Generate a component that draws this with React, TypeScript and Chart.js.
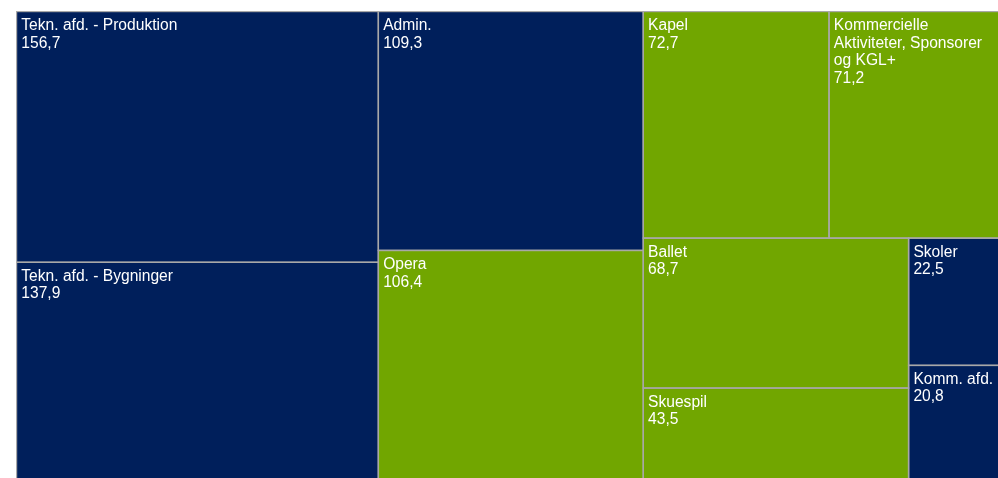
import React, { useEffect, useRef } from "react";
import { Chart, registerables } from "chart.js";

Chart.register(...registerables);

// ---- data ----
const labels: string[] = [
  "Tekn. afd. - Produktion",
  "Tekn. afd. - Bygninger",
  "Admin.",
  "Opera",
  "Kapel",
  "Kommercielle Aktiviteter, Sponsorer og KGL+",
  "Ballet",
  "Skuespil",
  "Skoler",
  "Komm. afd.",
];
const values: number[] = [156.7, 137.9, 109.3, 106.4, 72.7, 71.2, 68.7, 43.5, 22.5, 20.8];
const groups: string[] = [
  "support",
  "support",
  "support",
  "art",
  "art",
  "art",
  "art",
  "art",
  "support",
  "support",
];
const groupColors: Record<string, string> = { support: "#001F5B", art: "#71A600" };

type Cell = { i: number; x0: number; y0: number; x1: number; y1: number };

// d3-style squarified layout (golden ratio), in normalized data units [0,1]x[0,1];
// pixel width/height are used only for aspect-ratio decisions.
function squarify(vals: number[], Wp: number, Hp: number): Cell[] {
  const ratio = (1 + Math.sqrt(5)) / 2;
  const out: Cell[] = [];
  let x0 = 0, y0 = 0, x1 = 1, y1 = 1;
  let value = vals.reduce((a, b) => a + b, 0);
  let i0 = 0, i1 = 0;
  const n = vals.length;
  while (i0 < n) {
    const dx = (x1 - x0) * Wp;
    const dy = (y1 - y0) * Hp;
    let sum = vals[i1++];
    let minV = sum, maxV = sum;
    const alpha = Math.max(dy / dx, dx / dy) / (value * ratio);
    let beta = sum * sum * alpha;
    let minRatio = Math.max(maxV / beta, beta / minV);
    for (; i1 < n; ++i1) {
      const v = vals[i1];
      sum += v;
      if (v < minV) minV = v;
      if (v > maxV) maxV = v;
      beta = sum * sum * alpha;
      const nr = Math.max(maxV / beta, beta / minV);
      if (nr > minRatio) {
        sum -= v;
        break;
      }
      minRatio = nr;
    }
    const dice = dx < dy;
    if (dice) {
      const yb = i1 < n ? y0 + (y1 - y0) * (sum / value) : y1;
      let cx = x0;
      for (let k = i0; k < i1; k++) {
        const w = (x1 - x0) * (vals[k] / sum);
        out.push({ i: k, x0: cx, y0: y0, x1: k === i1 - 1 ? x1 : cx + w, y1: yb });
        cx += w;
      }
      y0 = yb;
    } else {
      const xb = i1 < n ? x0 + (x1 - x0) * (sum / value) : x1;
      let cy = y0;
      for (let k = i0; k < i1; k++) {
        const h = (y1 - y0) * (vals[k] / sum);
        out.push({ i: k, x0: x0, y0: cy, x1: xb, y1: k === i1 - 1 ? y1 : cy + h });
        cy += h;
      }
      x0 = xb;
    }
    value -= sum;
    i0 = i1;
  }
  return out;
}

function wrap(ctx: CanvasRenderingContext2D, text: string, maxW: number): string[] {
  const words = text.split(" ");
  const lines: string[] = [];
  let cur = "";
  for (const w of words) {
    const t = cur ? cur + " " + w : w;
    if (cur && ctx.measureText(t).width > maxW) {
      lines.push(cur);
      cur = w;
    } else {
      cur = t;
    }
  }
  if (cur) lines.push(cur);
  return lines;
}

const treemapPlugin = {
  id: "treemapCells",
  afterDatasetsDraw(chart: any) {
    const { ctx, chartArea, scales } = chart;
    const xs = scales.x;
    const ys = scales.y;
    const cells = squarify(values, chartArea.right - chartArea.left, chartArea.bottom - chartArea.top);
    ctx.save();
    for (const c of cells) {
      const L = xs.getPixelForValue(c.x0);
      const R = xs.getPixelForValue(c.x1);
      const T = ys.getPixelForValue(c.y0);
      const B = ys.getPixelForValue(c.y1);
      ctx.fillStyle = groupColors[groups[c.i]];
      ctx.fillRect(L, T, R - L, B - T);
    }
    ctx.strokeStyle = "#A8A8A8";
    ctx.lineWidth = 1.4;
    for (const c of cells) {
      const L = xs.getPixelForValue(c.x0);
      const R = xs.getPixelForValue(c.x1);
      const T = ys.getPixelForValue(c.y0);
      const B = ys.getPixelForValue(c.y1);
      ctx.strokeRect(L, T, R - L, B - T);
    }
    ctx.font = "15.6px 'Liberation Sans', Arial, sans-serif";
    ctx.fillStyle = "#FFFFFF";
    ctx.textBaseline = "alphabetic";
    ctx.textAlign = "left";
    for (const c of cells) {
      const L = xs.getPixelForValue(c.x0);
      const R = xs.getPixelForValue(c.x1);
      const T = ys.getPixelForValue(c.y0);
      const B = ys.getPixelForValue(c.y1);
      const lines = wrap(ctx, labels[c.i], R - L - 20);
      lines.push(values[c.i].toFixed(1).replace(".", ","));
      ctx.save();
      ctx.beginPath();
      ctx.rect(L, T, R - L, B - T);
      ctx.clip();
      lines.forEach((ln, k) => {
        ctx.fillText(ln, L + 4.8, T + 18.5 + k * 17.6);
      });
      ctx.restore();
    }
    ctx.restore();
  },
};

export default function App() {
  const ref = useRef<HTMLCanvasElement | null>(null);
  useEffect(() => {
    if (!ref.current) return;
    const chart = new Chart(ref.current, {
      type: "scatter",
      data: { datasets: [{ data: [] }] },
      options: {
        animation: false,
        responsive: false,
        devicePixelRatio: 1,
        layout: { padding: { left: 0.5, top: 0.5, right: 0, bottom: 0 } },
        plugins: { legend: { display: false }, tooltip: { enabled: false } },
        scales: {
          x: { type: "linear", min: 0, max: 1, display: false },
          y: { type: "linear", min: 0, max: 1, reverse: true, display: false },
        },
      },
      plugins: [treemapPlugin],
    });
    return () => chart.destroy();
  }, []);
  return (
    <div
      style={{
        position: "fixed",
        left: 0,
        top: 0,
        width: 998,
        height: 478,
        overflow: "hidden",
        background: "#ffffff",
      }}
    >
      <canvas ref={ref} width={995} height={472} style={{ position: "absolute", left: 16, top: 11 }} />
    </div>
  );
}
